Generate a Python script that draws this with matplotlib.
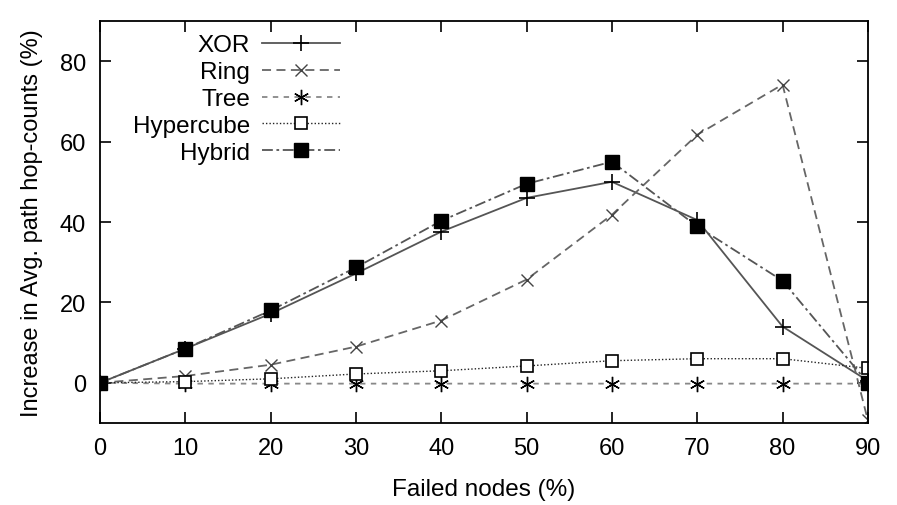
import matplotlib
matplotlib.use("Agg")
import matplotlib.pyplot as plt

plt.rcParams['font.family'] = ['Liberation Sans', 'DejaVu Sans']

failed = [0, 10, 20, 30, 40, 50, 60, 70, 80, 90]
xor = [0, 8.5, 17.2, 27.2, 37.6, 46, 50, 40.5, 14, 0.5]
ring = [0, 1.7, 4.5, 9, 15.5, 25.7, 41.8, 61.7, 74.2, -9.3]
tree = [0, -0.2, -0.2, -0.2, -0.2, -0.2, -0.2, -0.2, -0.2, -0.2]
hypercube = [0, 0.3, 1, 2.2, 3, 4.2, 5.5, 6, 6, 3.6]
hybrid = [0, 8.5, 18, 28.7, 40.3, 49.5, 55, 38.9, 25.4, 0]

xticks = [0, 10, 20, 30, 40, 50, 60, 70, 80, 90]
yticks = [0, 20, 40, 60, 80]

fig = plt.figure(figsize=(8.97, 5.06), dpi=100)
ax = fig.add_axes([0.1115, 0.162, 0.856, 0.7945])

ax.plot(failed, xor, color='#555555', lw=1.3, ls='-', marker='+', ms=11,
        mec='black', mew=1.2, label='XOR')
ax.plot(failed, ring, color='#666666', lw=1.3, ls=(0, (5, 3)), marker='x', ms=9,
        mec='#444444', mew=1.0, label='Ring')
ax.plot(failed, tree, color='#888888', lw=1.3, ls=(0, (3, 3)), marker=(6, 2, 0), ms=11,
        mec='black', mew=1.0, label='Tree')
ax.plot(failed, hypercube, color='#222222', lw=1.0, ls=(0, (1, 1.5)), marker='s', ms=9,
        mfc='white', mec='black', mew=1.2, label='Hypercube')
ax.plot(failed, hybrid, color='#555555', lw=1.3, ls=(0, (6, 2, 1.5, 2)), marker='s', ms=10,
        mfc='black', mec='black', label='Hybrid')

ax.set_xlim(0, 90)
ax.set_ylim(-10, 90)
ax.set_xticks(xticks)
ax.set_yticks(yticks)
ax.tick_params(direction='in', length=8, width=1.2, top=True, right=True,
               labelsize=17, pad=10)
for s in ax.spines.values():
    s.set_linewidth(1.3)
ax.set_xlabel('Failed nodes (%)', fontsize=17.5, labelpad=14)
ax.set_ylabel('Increase in Avg. path hop-counts (%)', fontsize=17, labelpad=12)

ax.legend(loc='upper right', bbox_to_anchor=(0.3125, 0.967), frameon=False,
          markerfirst=False, fontsize=17.5, handlelength=3.2, handletextpad=0.5,
          labelspacing=0.2, borderaxespad=0, borderpad=0)

fig.savefig('out.png', dpi=100)
